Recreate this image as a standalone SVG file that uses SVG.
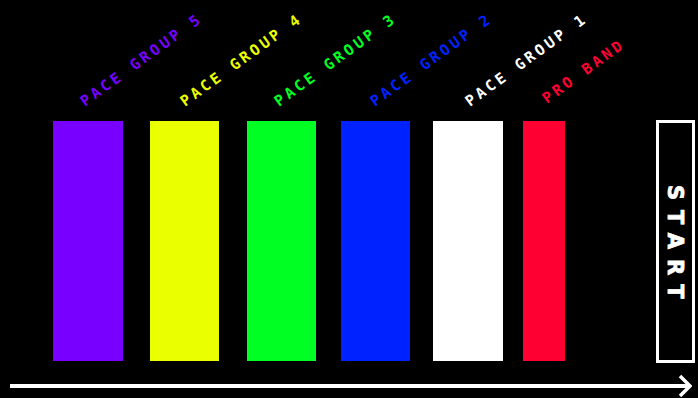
<svg xmlns="http://www.w3.org/2000/svg" width="698" height="398" viewBox="0 0 698 398">
<style>
.lbl{font-family:"DejaVu Sans Mono","Liberation Mono",monospace;font-weight:bold;font-size:15px;letter-spacing:3.2px}
.start{font-family:"DejaVu Sans","Liberation Sans",sans-serif;font-weight:900;font-size:21px;letter-spacing:10px;fill:#fff;stroke:#fff;stroke-width:0.8px}
</style>
<defs>
<marker id="chev" viewBox="0 0 14 24" refX="12" refY="12" markerWidth="14" markerHeight="24" markerUnits="userSpaceOnUse" orient="auto">
<path d="M2 2 L12 12 L2 22" fill="none" stroke="#fff" stroke-width="3.5"/>
</marker>
</defs>
<rect width="698" height="398" fill="#000"/>
<g id="pg5"><rect x="53" y="121" width="70" height="240" fill="#7700ff"/><text class="lbl" fill="#7700ff" transform="translate(85,107) rotate(-36)">PACE GROUP 5</text></g>
<g id="pg4"><rect x="150" y="121" width="69" height="240" fill="#eaff00"/><text class="lbl" fill="#eaff00" transform="translate(185,107) rotate(-36)">PACE GROUP 4</text></g>
<g id="pg3"><rect x="247" y="121" width="69" height="240" fill="#00ff22"/><text class="lbl" fill="#00ff22" transform="translate(279,107) rotate(-36)">PACE GROUP 3</text></g>
<g id="pg2"><rect x="341" y="121" width="69" height="240" fill="#0022ff"/><text class="lbl" fill="#0022ff" transform="translate(375,107) rotate(-36)">PACE GROUP 2</text></g>
<g id="pg1"><rect x="433" y="121" width="70" height="240" fill="#ffffff"/><text class="lbl" fill="#ffffff" transform="translate(470,107) rotate(-36)">PACE GROUP 1</text></g>
<g id="pro"><rect x="523" y="121" width="42" height="240" fill="#ff0033"/><text class="lbl" fill="#ff0033" transform="translate(547,104) rotate(-36)">PRO BAND</text></g>
<g id="start"><rect x="657.5" y="121.5" width="36" height="240" fill="#000" stroke="#fff" stroke-width="3"/><text class="start" transform="translate(668,185) rotate(90)">START</text></g>
<g id="connectors"><line x1="10" y1="386" x2="690" y2="386" stroke="#fff" stroke-width="4" marker-end="url(#chev)"/></g>
</svg>
